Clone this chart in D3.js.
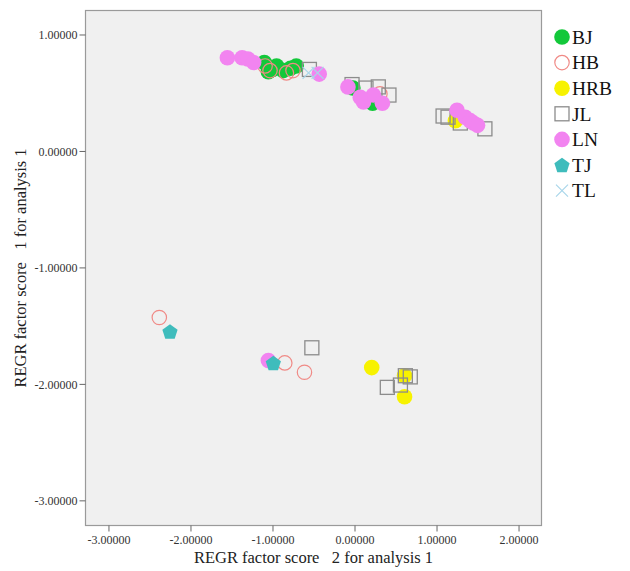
<!DOCTYPE html>
<html>
<head>
<meta charset="utf-8">
<script src="https://cdn.jsdelivr.net/npm/d3@7"></script>
<style>
  body { margin: 0; background: #fff; }
  text { font-family: "Liberation Serif", "Times New Roman", serif; }
</style>
</head>
<body>
<div id="chart"></div>
<script>
// groups in legend order
const groups = ["BJ", "HB", "HRB", "JL", "LN", "TJ", "TL"];

// [x, y] = [factor score 2, factor score 1]
const bjPoints = [[-1.10, 0.76], [-1.05, 0.68], [-0.95, 0.73], [-0.87, 0.69], [-0.78, 0.71],
  [-0.71, 0.73], [-1.00, 0.70], [-0.02, 0.54], [0.22, 0.41]];
const hbPoints = [[-1.09, 0.73], [-0.83, 0.67], [-0.75, 0.69], [-1.03, 0.69], [0.31, 0.49],
  [-2.38, -1.43], [-0.85, -1.82], [-0.61, -1.90]];
const hrbPoints = [[1.23, 0.26], [0.21, -1.86], [0.61, -1.93], [0.61, -2.11]];
const jlPoints = [[-0.55, 0.70], [-0.03, 0.57], [0.14, 0.54], [0.29, 0.55], [0.42, 0.48],
  [1.08, 0.30], [1.14, 0.29], [1.29, 0.24], [1.59, 0.19], [-0.52, -1.69],
  [0.40, -2.03], [0.56, -2.01], [0.62, -1.93], [0.68, -1.94]];
const lnPoints = [[-1.55, 0.80], [-1.37, 0.80], [-1.30, 0.79], [-1.23, 0.76], [-0.43, 0.66],
  [-0.08, 0.55], [0.11, 0.42], [0.23, 0.48], [0.34, 0.41], [0.07, 0.46],
  [1.25, 0.35], [1.35, 0.29], [1.41, 0.26], [1.45, 0.24], [1.50, 0.22], [-1.05, -1.80]];
const tjPoints = [[-2.25, -1.55], [-0.99, -1.82]];
const tlPoints = [[-0.56, 0.67], [-0.45, 0.67]];

const xTicks = [-3, -2, -1, 0, 1, 2];
const yTicks = [1, 0, -1, -2, -3];

const seriesData = [bjPoints, hbPoints, hrbPoints, jlPoints, lnPoints, tjPoints, tlPoints];

const style = {
  BJ: {shape: "circle", fill: "#13c83a", stroke: "none"},
  HB: {shape: "circle", fill: "none", stroke: "#f08a86"},
  HRB: {shape: "circle", fill: "#f7f200", stroke: "none"},
  JL: {shape: "square", fill: "none", stroke: "#8c8c8c"},
  LN: {shape: "circle", fill: "#f284f0", stroke: "none"},
  TJ: {shape: "pentagon", fill: "#3fbcbc", stroke: "none"},
  TL: {shape: "cross", fill: "none", stroke: "#a9d6ea"}
};

const width = 630, height = 571;
const plot = {left: 85.5, right: 541.5, top: 10.5, bottom: 525.5};

const x = d3.scaleLinear().domain([-3.28, 2.28]).range([plot.left, plot.right]);
const y = d3.scaleLinear().domain([1.206, -3.216]).range([plot.top, plot.bottom]);

const svg = d3.select("#chart").append("svg")
  .attr("width", width)
  .attr("height", height);

svg.append("rect")
  .attr("x", plot.left).attr("y", plot.top)
  .attr("width", plot.right - plot.left)
  .attr("height", plot.bottom - plot.top)
  .attr("fill", "#f0f0f0")
  .attr("stroke", "#9a9a9a")
  .attr("stroke-width", 1.2);

// axes
const fmt = d => d3.format(".5f")(d).replace("−", "-");
const xAxis = svg.append("g")
  .attr("transform", `translate(0,${plot.bottom})`)
  .call(d3.axisBottom(x).tickValues(xTicks).tickSize(6).tickPadding(4).tickFormat(fmt));
const yAxis = svg.append("g")
  .attr("transform", `translate(${plot.left},0)`)
  .call(d3.axisLeft(y).tickValues(yTicks).tickSize(6).tickPadding(2).tickFormat(fmt));

[xAxis, yAxis].forEach(a => {
  a.select(".domain").remove();
  a.selectAll(".tick line").attr("stroke", "#666");
  a.selectAll(".tick text")
    .attr("fill", "#333")
    .style("font-size", "12px")
    .style("font-family", "'Liberation Serif', serif");
});
yAxis.selectAll(".tick text").attr("dy", "0.35em");

svg.append("text")
  .attr("x", (plot.left + plot.right) / 2)
  .attr("y", 563)
  .attr("text-anchor", "middle")
  .style("font-size", "16.5px")
  .attr("fill", "#222")
  .attr("xml:space", "preserve")
  .text("REGR factor score   2 for analysis 1");

svg.append("text")
  .attr("transform", `translate(26,${(plot.top + plot.bottom) / 2}) rotate(-90)`)
  .attr("text-anchor", "middle")
  .style("font-size", "16.5px")
  .attr("fill", "#222")
  .attr("xml:space", "preserve")
  .text("REGR factor score   1 for analysis 1");

function pentagon(r) {
  const pts = d3.range(5).map(i => {
    const a = -Math.PI / 2 + i * 2 * Math.PI / 5;
    return [r * Math.cos(a), r * Math.sin(a) + r * 0.1];
  });
  return "M" + pts.map(p => p.join(",")).join("L") + "Z";
}

function drawMarker(g, key, cx, cy) {
  const s = style[key];
  if (s.shape === "circle") {
    const r = s.fill === "none" ? 7.2 : 7.8;
    g.append("circle").attr("cx", cx).attr("cy", cy).attr("r", r)
      .attr("fill", s.fill).attr("stroke", s.stroke).attr("stroke-width", 1.2);
  } else if (s.shape === "square") {
    g.append("rect").attr("x", cx - 7).attr("y", cy - 7).attr("width", 14).attr("height", 14)
      .attr("fill", s.fill).attr("stroke", s.stroke).attr("stroke-width", 1.3);
  } else if (s.shape === "pentagon") {
    g.append("path").attr("transform", `translate(${cx},${cy})`).attr("d", pentagon(8))
      .attr("fill", s.fill);
  } else {
    g.append("path").attr("transform", `translate(${cx},${cy})`)
      .attr("d", "M-6,-6L6,6M-6,6L6,-6")
      .attr("stroke", s.stroke).attr("stroke-width", 1.2).attr("fill", "none");
  }
}

const marks = svg.append("g");
groups.forEach((key, i) => {
  const g = marks.append("g").attr("class", "series-" + key);
  seriesData[i].forEach(d => drawMarker(g, key, x(d[0]), y(d[1])));
});

// legend
const legend = svg.append("g");
groups.forEach((key, i) => {
  const ly = 37 + i * 25.6;
  drawMarker(legend, key, 562, ly);
  legend.append("text")
    .attr("x", 572).attr("y", ly)
    .attr("dy", "0.35em")
    .style("font-size", "19.5px")
    .attr("fill", "#111")
    .text(key);
});
</script>
</body>
</html>
